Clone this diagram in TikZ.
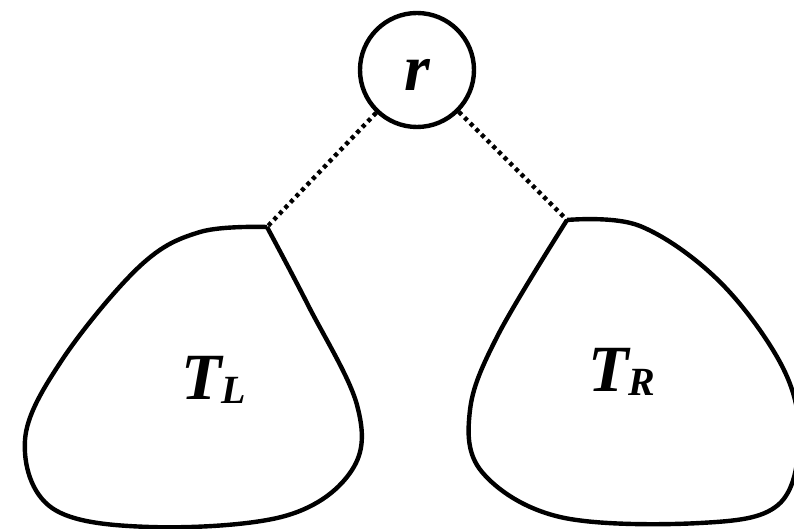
\documentclass[tikz,border=0pt]{standalone}
\usepackage{fontspec}
\setmainfont{Liberation Serif}
\usetikzlibrary{positioning}

\newcommand{\treelab}[2]{{\bfseries\itshape #1\raisebox{-2pt}{\fontsize{20}{20}\selectfont #2}}}

\begin{document}
\begin{tikzpicture}[
  x=0.5pt, y=-0.5pt,
  every node/.style={font=\fontsize{33}{33}\selectfont\bfseries\itshape},
  rootnode/.style={draw, circle, line width=2.2pt, minimum size=57pt, inner sep=0pt,
                   text height=21pt, text depth=0pt},
  subtree/.style={draw, line width=2.2pt, line join=round},
  treelabel/.style={inner sep=0pt},
  dotted_edge/.style={line width=2.2pt, dash pattern=on 2pt off 2pt},
]
\useasboundingbox (0,0) rectangle (794,529);

% ---- Root ----
\node[rootnode] (root) at (417,70) {r};

% ---- Left subtree ----
\coordinate (tl_top) at (267,227);
\draw[subtree] plot[smooth, tension=0.6] coordinates {
  (267,227) (200,232) (140,266) (62,360) (25,440) (52,508) (150,527)
  (285,516) (352,470) (357,405) (308,305) (267,227)};
\node[treelabel] (tl_lab) at (214,380) {\treelab{T}{L}};

% ---- Right subtree ----
\coordinate (tr_top) at (567,220);
\draw[subtree] plot[smooth, tension=0.6] coordinates {
  (567,220) (640,226) (720,282) (783,368) (799,440) (778,505) (700,523)
  (560,517) (482,472) (470,410) (498,335) (567,220)};
\node[treelabel] (tr_lab) at (622,372) {\treelab{T}{R}};

% ---- Edges ----
\draw[dotted_edge] (root) -- (tl_top);
\draw[dotted_edge] (root) -- (tr_top);

\end{tikzpicture}
\end{document}
